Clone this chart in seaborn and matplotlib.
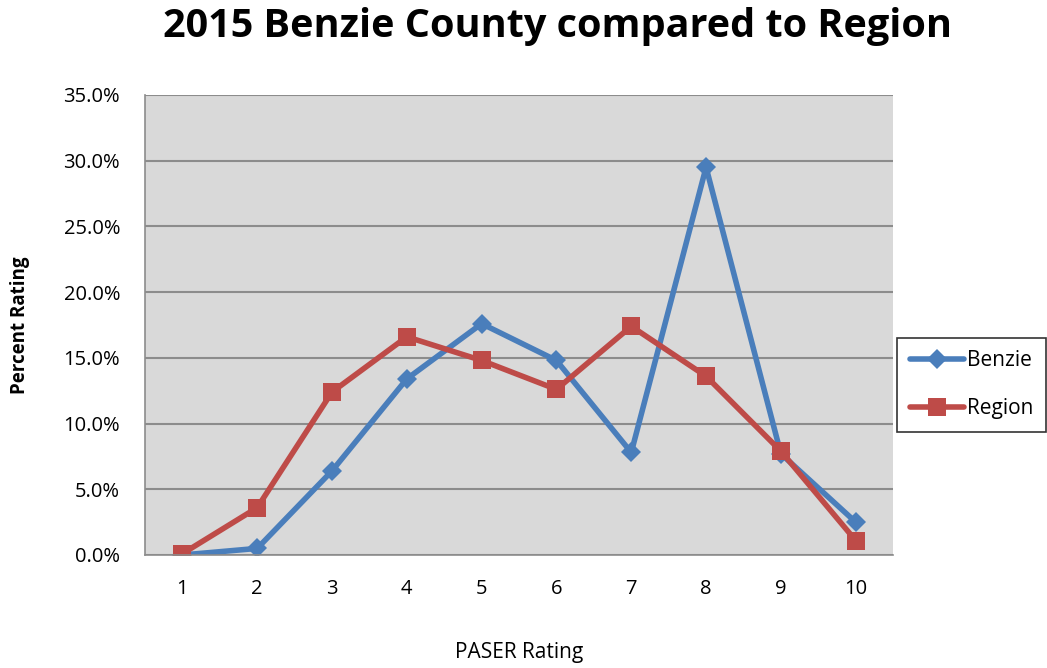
import pandas as pd
import seaborn as sns
import matplotlib.pyplot as plt
from matplotlib.ticker import FuncFormatter

ratings = [1, 2, 3, 4, 5, 6, 7, 8, 9, 10]
benzie = [0.0, 0.5, 6.4, 13.4, 17.6, 14.8, 7.8, 29.5, 7.7, 2.5]
region = [0.1, 3.6, 12.4, 16.6, 14.8, 12.6, 17.4, 13.6, 7.9, 1.1]

df = pd.DataFrame({
    "rating": ratings * 2,
    "pct": benzie + region,
    "series": ["Benzie"] * 10 + ["Region"] * 10,
})

sns.set_style("white")
plt.rcParams["font.family"] = ["Open Sans", "DejaVu Sans"]
plt.rcParams["text.color"] = "black"
plt.rcParams["axes.labelcolor"] = "black"
plt.rcParams["xtick.color"] = "black"
plt.rcParams["ytick.color"] = "black"

fig = plt.figure(figsize=(10.47, 6.68), dpi=100)
ax = fig.add_axes([0.1385, 0.1692, 0.7145, 0.6886])
ax.set_facecolor("#d9d9d9")

sns.lineplot(
    data=df, x="rating", y="pct", hue="series", style="series",
    palette={"Benzie": "#4a7ebb", "Region": "#be4b48"},
    markers={"Benzie": "D", "Region": "s"}, dashes=False,
    markersize=13, linewidth=4, markeredgewidth=0, ax=ax,
)
for ln in ax.lines:
    if ln.get_marker() == "D":
        ln.set_markersize(10)

ax.set_xlim(0.5, 10.5)
ax.set_ylim(0, 35)
ax.set_xticks(ratings)
ax.set_yticks([0, 5, 10, 15, 20, 25, 30, 35])
ax.yaxis.set_major_formatter(FuncFormatter(lambda v, p: f"{v:.1f}%"))
ax.grid(axis="y", color="#8c8c8c", linewidth=1.5)
ax.set_axisbelow(True)
for s in ["top", "right"]:
    ax.spines[s].set_visible(False)
for s in ["left", "bottom"]:
    ax.spines[s].set_color("#8c8c8c")
    ax.spines[s].set_linewidth(1.2)
ax.tick_params(axis="y", labelsize=14.5, length=0, pad=18)
ax.tick_params(axis="x", labelsize=14.5, length=0, pad=17)

ax.set_xlabel("PASER Rating", fontsize=15, labelpad=31)
ax.set_ylabel("Percent Rating", fontsize=13.5, fontweight="bold", labelpad=24)
fig.suptitle("2015 Benzie County compared to Region", fontsize=28.5,
             fontweight="bold", x=0.532, y=0.99)

leg = ax.legend(title=None, loc="center left", bbox_to_anchor=(1.0, 0.37),
                fontsize=15, frameon=True, fancybox=False, handlelength=2.6,
                borderpad=0.6, labelspacing=1.3, handletextpad=0.15,
                borderaxespad=0.2)
leg.get_frame().set_edgecolor("black")
leg.get_frame().set_linewidth(1.2)

fig.savefig("out.png", dpi=100)
